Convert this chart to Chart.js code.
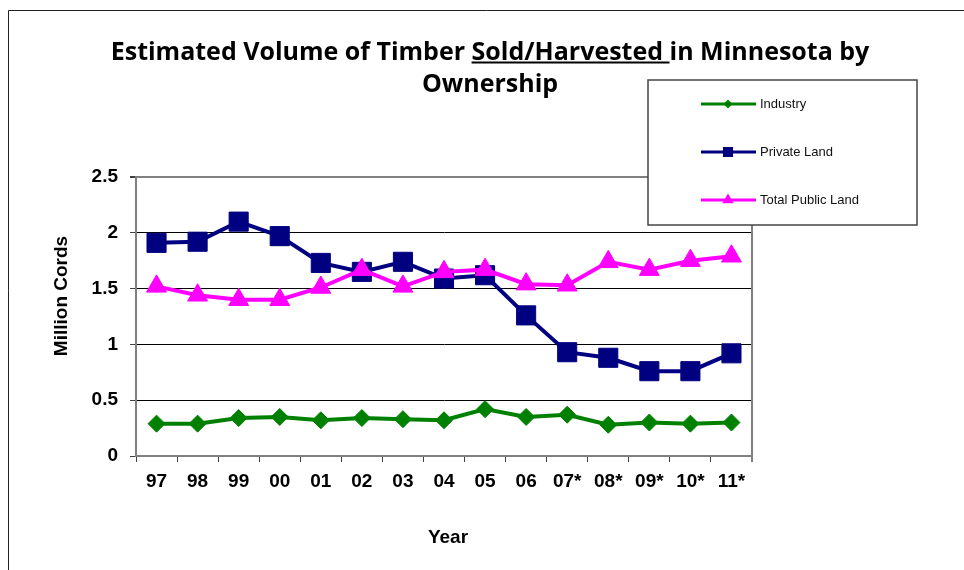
<!DOCTYPE html>
<html>
<head>
<meta charset="utf-8">
<script src="https://cdn.jsdelivr.net/npm/chart.js@4.4.1/dist/chart.umd.min.js"></script>
<style>
  body { margin: 0; background: #fff; }
  #contenedor { width: 964px; height: 570px; position: relative; }
</style>
</head>
<body>
<div id="contenedor"><canvas id="grafico"></canvas></div>
<script>
let years = ["97", "98", "99", "00", "01", "02", "03", "04", "05", "06", "07*", "08*", "09*", "10*", "11*"];
let industry = [0.29, 0.29, 0.34, 0.35, 0.32, 0.34, 0.33, 0.32, 0.42, 0.35, 0.37, 0.28, 0.30, 0.29, 0.30];
let privateLand = [1.91, 1.92, 2.10, 1.97, 1.73, 1.65, 1.74, 1.59, 1.62, 1.26, 0.93, 0.88, 0.76, 0.76, 0.92];
let publicLand = [1.52, 1.44, 1.40, 1.40, 1.51, 1.67, 1.52, 1.65, 1.67, 1.54, 1.53, 1.74, 1.67, 1.75, 1.79];
let seriesNames = ["Industry", "Private Land", "Total Public Land"];
let seriesColors = ["#008000", "#000080", "#ff00ff"];

let titleParts = ["Estimated Volume of Timber ", "Sold/Harvested ", "in Minnesota by"];
let titleLine2 = "Ownership";
let yTitle = "Million Cords";
let xTitle = "Year";

let tituloFont = "bold 25px 'Open Sans'";
let ejeFont = "bold 19px 'Liberation Sans', Arial";

function marcador(ctx, estilo, x, y, r, color) {
  ctx.save();
  ctx.fillStyle = color;
  ctx.beginPath();
  if (estilo === "rectRot") {
    ctx.moveTo(x - r, y); ctx.lineTo(x, y - r); ctx.lineTo(x + r, y); ctx.lineTo(x, y + r);
  } else if (estilo === "rect") {
    ctx.rect(x - r, y - r, 2 * r, 2 * r);
  } else {
    ctx.moveTo(x, y - r); ctx.lineTo(x + r * 0.87, y + r * 0.5); ctx.lineTo(x - r * 0.87, y + r * 0.5);
  }
  ctx.closePath();
  ctx.fill();
  ctx.restore();
}

// titulo, ejes, borde y leyenda dibujados a mano
const extras = {
  id: "extras",
  afterDraw(chart) {
    const ctx = chart.ctx;
    const area = chart.chartArea;
    ctx.save();

    // marco exterior
    ctx.strokeStyle = "#222";
    ctx.lineWidth = 1;
    ctx.beginPath();
    ctx.moveTo(8.5, 570); ctx.lineTo(8.5, 10.5); ctx.lineTo(964, 10.5);
    ctx.stroke();

    // borde derecho del area
    ctx.strokeStyle = "#808080";
    ctx.lineWidth = 2;
    ctx.beginPath();
    ctx.moveTo(area.right, area.top - 1); ctx.lineTo(area.right, area.bottom + 6);
    ctx.stroke();

    // titulo
    ctx.fillStyle = "#000";
    ctx.font = tituloFont;
    ctx.textBaseline = "alphabetic";
    ctx.textAlign = "left";
    let anchos = titleParts.map(t => ctx.measureText(t).width);
    let total = anchos.reduce((a, b) => a + b, 0);
    let x = 490 - total / 2;
    let yBase = 59.5;
    titleParts.forEach((t, i) => {
      ctx.fillText(t, x, yBase);
      if (i === 1) {
        ctx.fillRect(x, yBase + 2, anchos[i], 2);
      }
      x += anchos[i];
    });
    ctx.textAlign = "center";
    ctx.fillText(titleLine2, 490, 92);

    // titulos de ejes
    ctx.font = ejeFont;
    ctx.textBaseline = "middle";
    ctx.fillText(xTitle, 448, 538);
    ctx.save();
    ctx.translate(62, 296);
    ctx.rotate(-Math.PI / 2);
    ctx.fillText(yTitle, 0, 0);
    ctx.restore();

    // leyenda
    ctx.fillStyle = "#fff";
    ctx.fillRect(648, 80, 269, 145);
    ctx.strokeStyle = "#444";
    ctx.lineWidth = 1.5;
    ctx.strokeRect(648, 80, 269, 145);
    let filas = [104, 152, 200];
    chart.data.datasets.forEach((ds, i) => {
      let yy = filas[i];
      ctx.strokeStyle = ds.borderColor;
      ctx.lineWidth = 3;
      ctx.beginPath();
      ctx.moveTo(701, yy); ctx.lineTo(756, yy);
      ctx.stroke();
      let r = ds.pointStyle === "rectRot" ? 4.5 : (ds.pointStyle === "rect" ? 5 : 6.5);
      marcador(ctx, ds.pointStyle, 728, yy, r, ds.borderColor);
      ctx.fillStyle = "#111";
      ctx.font = "13px 'Liberation Sans', Arial";
      ctx.textAlign = "left";
      ctx.textBaseline = "middle";
      ctx.fillText(ds.label, 760, yy);
    });
    ctx.restore();
  }
};

function crearGrafico() {
  let ctx = document.getElementById("grafico").getContext("2d");
  new Chart(ctx, {
    type: "line",
    data: {
      labels: years,
      datasets: [
        {
          label: seriesNames[0],
          data: industry,
          borderColor: seriesColors[0],
          backgroundColor: seriesColors[0],
          pointStyle: "rectRot",
          pointRadius: 8.5,
          order: 2,
        },
        {
          label: seriesNames[1],
          data: privateLand,
          borderColor: seriesColors[1],
          backgroundColor: seriesColors[1],
          pointStyle: "rect",
          pointRadius: 13.5,
          order: 1,
        },
        {
          label: seriesNames[2],
          data: publicLand,
          borderColor: seriesColors[2],
          backgroundColor: seriesColors[2],
          pointStyle: "triangle",
          pointRadius: 11.5,
          order: 0,
        },
      ],
    },
    options: {
      responsive: true,
      maintainAspectRatio: false,
      animation: false,
      devicePixelRatio: 1,
      elements: {
        line: { borderWidth: 4, tension: 0 },
        point: { borderWidth: 1, hoverRadius: 8 },
      },
      layout: { padding: { left: 0, top: 177, right: 212, bottom: 0 } },
      plugins: {
        legend: { display: false },
        title: { display: false },
        tooltip: { enabled: false },
      },
      scales: {
        x: {
          offset: true,
          grid: {
            offset: true,
            drawOnChartArea: false,
            drawTicks: true,
            tickLength: 6,
            tickColor: "#404040",
          },
          border: { color: "#808080", width: 2 },
          ticks: {
            color: "#000",
            font: { family: "'Liberation Sans', Arial", size: 19, weight: "bold" },
            padding: 8,
            maxRotation: 0,
            autoSkip: false,
          },
          afterFit: function (scale) { scale.height = 114; },
        },
        y: {
          min: 0,
          max: 2.5,
          grid: {
            color: c => (c.tick && c.tick.value === 2.5 ? "#808080" : "#000"),
            lineWidth: c => (c.tick && c.tick.value === 2.5 ? 2 : 1),
            tickLength: 6,
            tickColor: "#404040",
          },
          border: { color: "#808080", width: 2 },
          ticks: {
            stepSize: 0.5,
            color: "#000",
            font: { family: "'Liberation Sans', Arial", size: 19, weight: "bold" },
            padding: 12,
            callback: value => String(value),
          },
          afterFit: function (scale) { scale.width = 136; },
        },
      },
    },
    plugins: [extras],
  });
}

crearGrafico();
</script>
</body>
</html>
